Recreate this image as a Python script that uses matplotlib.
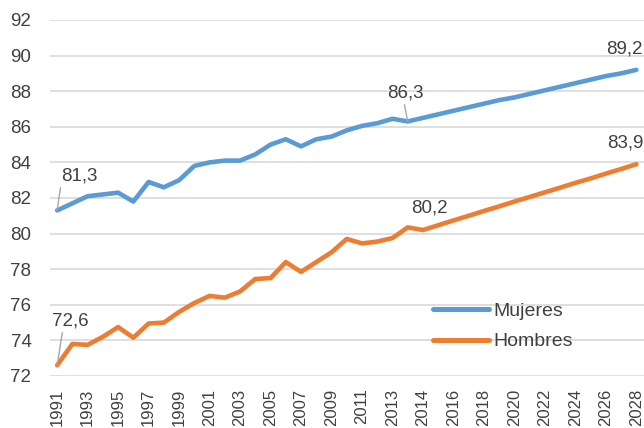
import matplotlib
matplotlib.use("Agg")
import matplotlib.pyplot as plt
from matplotlib import font_manager

fams = {f.name for f in font_manager.fontManager.ttflist}
FONT = ['Liberation Sans Narrow', 'Liberation Sans', 'DejaVu Sans'] if 'Liberation Sans Narrow' in fams else ['Liberation Sans', 'DejaVu Sans']
plt.rcParams['font.family'] = FONT

years = [str(y) for y in range(1991, 2015)] + [str(y) for y in range(2014, 2029)]
mujeres = [81.3, 81.7, 82.1, 82.2, 82.3, 81.8, 82.9, 82.6, 83.0, 83.8, 84.0, 84.1,
           84.1, 84.45, 85.0, 85.3, 84.9, 85.3, 85.45, 85.8, 86.05, 86.2, 86.45, 86.3,
           86.5, 86.7, 86.9, 87.1, 87.3, 87.5, 87.65, 87.85, 88.05, 88.25, 88.45, 88.65,
           88.85, 89.0, 89.2]
hombres = [72.6, 73.8, 73.75, 74.2, 74.75, 74.15, 74.95, 75.0, 75.6, 76.1, 76.5, 76.4,
           76.75, 77.45, 77.5, 78.4, 77.85, 78.4, 78.95, 79.7, 79.45, 79.55, 79.75, 80.35,
           80.2, 80.47, 80.74, 81.0, 81.27, 81.53, 81.8, 82.06, 82.32, 82.58, 82.85, 83.1,
           83.37, 83.63, 83.9]
tick_labels = years[0::2]
yticks = [72, 74, 76, 78, 80, 82, 84, 86, 88, 90, 92]

BLUE = '#5B9BD5'
ORANGE = '#ED7D31'
TXT = '#404040'

fig = plt.figure(figsize=(6.44, 4.28), dpi=100)
ax = fig.add_axes([49.5/644, 1-376/428, 1-49.5/644, (376-20)/428])

x = list(range(len(years)))
ax.plot(x, mujeres, color=BLUE, lw=3.3, solid_capstyle='round', solid_joinstyle='round', label='Mujeres', zorder=3)
ax.plot(x, hombres, color=ORANGE, lw=3.3, solid_capstyle='round', solid_joinstyle='round', label='Hombres', zorder=3)

ax.set_xlim(-0.5, len(years) - 0.5)
ax.set_ylim(72, 92)
ax.set_yticks(yticks)
ax.set_yticklabels([str(v) for v in yticks])
ax.set_xticks(x[0::2])
ax.set_xticklabels(tick_labels, rotation=90)
ax.tick_params(axis='both', length=0, colors=TXT)
ax.tick_params(axis='y', pad=13, labelsize=13.5)
ax.tick_params(axis='x', pad=9, labelsize=12)
ax.grid(axis='y', color='#d9d9d9', lw=1.2)
ax.set_axisbelow(True)
for s in ax.spines.values():
    s.set_visible(False)

def fmt(v):
    return f"{v:.1f}".replace('.', ',')

fs = 13.5
def lab(i, series, dx, dy, leader=None):
    v = series[i]
    ax.annotate(fmt(v), xy=(i, v), xytext=(dx, dy), textcoords='offset pixels',
                ha='center', va='center', fontsize=fs, color=TXT,
                arrowprops=None if leader is None else dict(arrowstyle='-', color='#a6a6a6', lw=1,
                                                            shrinkA=0, shrinkB=0, relpos=leader))

lab(0, mujeres, 22, 34, leader=(0.0, 0.0))
lab(0, hombres, 13, 44, leader=(0.3, 0.0))
lab(23, mujeres, -2, 28, leader=(0.45, 0.0))
lab(24, hombres, 6, 22)
lab(38, mujeres, -12, 21)
lab(38, hombres, -11, 21)

leg = ax.legend(loc='center left', bbox_to_anchor=(433/644, 1-326.5/428), bbox_transform=fig.transFigure,
                frameon=False, fontsize=14, handlelength=2.9, handletextpad=0.2, labelspacing=0.65,
                borderpad=0, borderaxespad=0)
for t in leg.get_texts():
    t.set_color(TXT)
for h in leg.get_lines():
    h.set_linewidth(3.6)

fig.savefig('out.png', dpi=100)
